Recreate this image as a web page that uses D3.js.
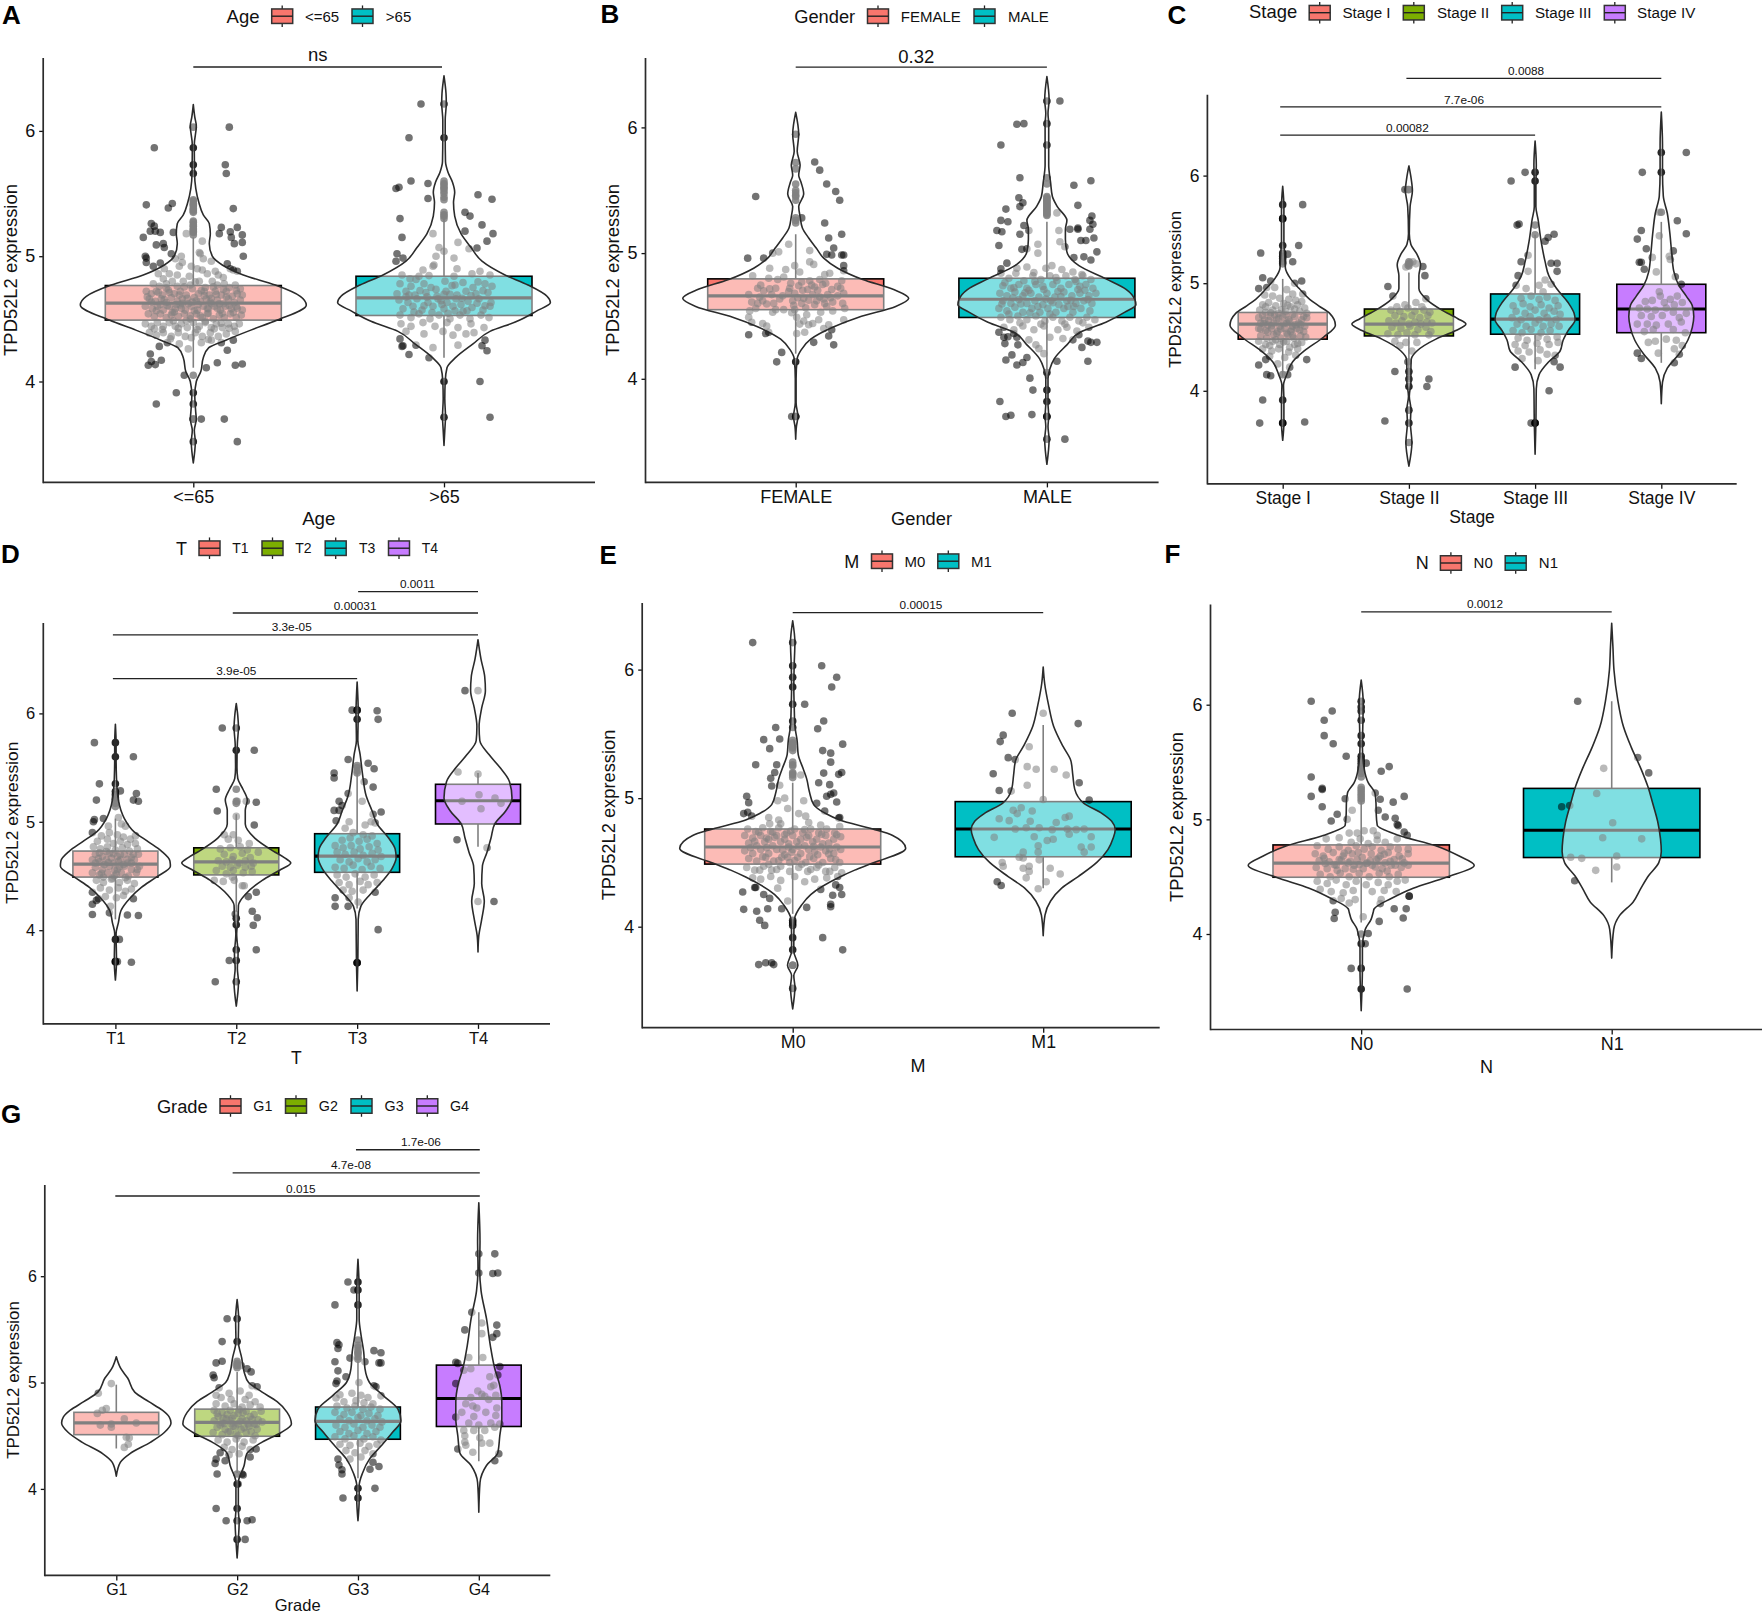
<!DOCTYPE html>
<html><head><meta charset="utf-8">
<script src="https://cdn.jsdelivr.net/npm/d3@7/dist/d3.min.js"></script>
<style>html,body{margin:0;padding:0;background:#fff}svg{display:block}text{font-family:"Liberation Sans",Arial,sans-serif;fill:#111}</style>
</head><body><svg id="c" width="1762" height="1616"></svg>
<script>
// ---------- categories ----------
const catsAge=["<=65",">65"], catsGender=["FEMALE","MALE"], catsStage=["Stage I","Stage II","Stage III","Stage IV"],
      catsT=["T1","T2","T3","T4"], catsM=["M0","M1"], catsN=["N0","N1"], catsGrade=["G1","G2","G3","G4"];
const yTickValues=[4,5,6];
// ---------- box statistics: low whisker, q1, median, q3, high whisker ----------
const boxAge=[[4.11,4.49,4.626,4.766,5.15],[4.19,4.527,4.667,4.84,5.34]];
const boxGender=[[4.2,4.55,4.66,4.795,5.15],[4.0,4.488,4.633,4.8,5.25]];
const boxStage=[[4.13,4.48,4.62,4.728,5.04],[4.1,4.51,4.62,4.76,5.1],[4.2,4.526,4.667,4.9,5.45],[4.26,4.54,4.76,4.99,5.57]];
const boxT=[[4.1,4.49,4.61,4.73,5.03],[4.17,4.51,4.63,4.76,5.07],[4.2,4.534,4.683,4.89,5.5],[4.77,4.98,5.194,5.346,5.45]];
const boxM=[[4.1,4.487,4.62,4.76,5.12],[4.3,4.544,4.76,4.973,5.57]];
const boxN=[[4.1,4.495,4.618,4.777,5.2],[4.45,4.667,4.905,5.27,6.03]];
const boxGrade=[[4.38,4.51,4.62,4.72,4.98],[4.15,4.495,4.625,4.75,5.1],[4.1,4.467,4.634,4.77,5.2],[4.26,4.587,4.85,5.164,5.66]];
// ---------- violin outlines: value, density ----------
const vioAge1=[[3.35,0],[3.52,.02],[3.61,.01],[3.7,.03],[3.75,.025],[3.89,.015],[4,.03],[4.08,.075],[4.19,.1],[4.27,.155],[4.33,.325],[4.41,.575],[4.49,.84],[4.61,1.13],[4.68,1.07],[4.77,.82],[4.85,.5],[4.93,.29],[5,.19],[5.1,.16],[5.18,.17],[5.26,.16],[5.33,.1],[5.43,.055],[5.54,.025],[5.67,.012],[5.89,.01],[6.04,.03],[6.11,.015],[6.21,0]];
const vioAge2=[[3.49,0],[3.61,.008],[3.72,.015],[3.86,.008],[4,.012],[4.11,.03],[4.19,.115],[4.3,.29],[4.4,.46],[4.48,.73],[4.56,.92],[4.63,1.064],[4.68,1.03],[4.77,.84],[4.85,.61],[4.96,.38],[5.07,.27],[5.18,.17],[5.32,.107],[5.43,.095],[5.51,.107],[5.59,.085],[5.67,.04],[5.755,.015],[5.95,.012],[6.085,.012],[6.22,.023],[6.3,.02],[6.44,0]];
const vioGender1=[[3.52,0],[3.62,.007],[3.7,.022],[3.81,.004],[4,.004],[4.16,.015],[4.23,.055],[4.315,.15],[4.41,.37],[4.49,.63],[4.575,1.0],[4.64,1.13],[4.71,.98],[4.79,.67],[4.88,.42],[4.96,.28],[5.04,.205],[5.12,.13],[5.2,.067],[5.29,.044],[5.37,.03],[5.47,.08],[5.56,.055],[5.62,.03],[5.7,.044],[5.81,.015],[5.945,.03],[6.12,0]];
const vioGender2=[[3.32,0],[3.52,.022],[3.62,.011],[3.7,.018],[3.81,.011],[4,.011],[4.08,.03],[4.16,.074],[4.27,.2],[4.37,.33],[4.45,.59],[4.53,.78],[4.59,.89],[4.63,.88],[4.71,.795],[4.795,.59],[4.9,.32],[5.01,.2],[5.11,.185],[5.19,.185],[5.26,.2],[5.37,.104],[5.45,.055],[5.56,.037],[5.7,.018],[5.86,.018],[6.03,.018],[6.11,.011],[6.22,.022],[6.405,0]];
const vioStage1=[[3.54,0],[3.7,.012],[3.92,.012],[4.05,.008],[4.15,.04],[4.27,.1],[4.37,.215],[4.5,.41],[4.61,.527],[4.72,.47],[4.79,.36],[4.85,.27],[4.95,.165],[5.04,.08],[5.14,.027],[5.27,.02],[5.39,.012],[5.59,.012],[5.71,.012],[5.9,0]];
const vioStage2=[[3.3,0],[3.52,.03],[3.7,.015],[3.83,.02],[3.95,.004],[4.08,.02],[4.18,.02],[4.29,.023],[4.37,.08],[4.48,.27],[4.56,.47],[4.62,.57],[4.67,.49],[4.75,.33],[4.85,.175],[4.95,.1],[5.07,.1],[5.17,.117],[5.27,.08],[5.36,.02],[5.46,.004],[5.71,.012],[5.86,.035],[5.97,.023],[6.09,0]];
const vioStage3=[[3.41,0],[3.7,.008],[4.02,.012],[4.15,.04],[4.27,.137],[4.37,.25],[4.47,.28],[4.56,.33],[4.66,.4],[4.72,.39],[4.82,.33],[4.95,.215],[5.07,.137],[5.2,.1],[5.39,.06],[5.59,.03],[5.71,.008],[5.9,.008],[6.1,.012],[6.32,0]];
const vioStage4=[[3.88,0],[4.08,.012],[4.21,.06],[4.34,.175],[4.47,.265],[4.59,.31],[4.69,.325],[4.79,.31],[4.88,.25],[4.98,.175],[5.11,.125],[5.27,.105],[5.46,.086],[5.65,.06],[5.81,.02],[6.03,.012],[6.29,.012],[6.59,0]];
const vioT1=[[3.54,0],[3.71,.011],[3.97,.007],[4.07,.03],[4.18,.055],[4.3,.15],[4.395,.26],[4.49,.41],[4.59,.55],[4.64,.545],[4.73,.46],[4.815,.33],[4.91,.185],[5.03,.09],[5.107,.055],[5.2,.03],[5.4,.011],[5.59,.007],[5.72,.007],[5.9,0]];
const vioT2=[[3.3,0],[3.52,.022],[3.65,.011],[3.78,.018],[3.97,.004],[4.1,.018],[4.23,.022],[4.33,.09],[4.46,.26],[4.56,.445],[4.62,.545],[4.67,.48],[4.73,.37],[4.85,.185],[4.98,.09],[5.107,.09],[5.2,.11],[5.3,.067],[5.4,.015],[5.5,.007],[5.72,.011],[5.87,.022],[5.98,.015],[6.09,0]];
const vioT3=[[3.44,0],[3.71,.007],[4.1,.011],[4.22,.037],[4.33,.13],[4.46,.26],[4.57,.35],[4.67,.39],[4.75,.38],[4.85,.315],[4.98,.2],[5.1,.15],[5.24,.09],[5.43,.055],[5.62,.03],[5.75,.007],[6.01,.011],[6.29,0]];
const vioT4=[[3.8,0],[3.94,.007],[4.1,.037],[4.27,.063],[4.43,.037],[4.59,.044],[4.72,.09],[4.85,.13],[4.98,.167],[5.1,.277],[5.22,.34],[5.37,.315],[5.5,.22],[5.62,.11],[5.75,.018],[5.88,.011],[6.05,.037],[6.21,.074],[6.34,.067],[6.5,.03],[6.68,0]];
const vioM0=[[3.36,0],[3.53,.022],[3.62,.011],[3.7,.052],[3.81,.011],[3.92,.011],[4.06,.018],[4.17,.09],[4.25,.18],[4.386,.47],[4.44,.62],[4.495,.8],[4.61,1.13],[4.71,1.0],[4.76,.8],[4.83,.47],[4.88,.33],[4.95,.21],[5.05,.167],[5.15,.14],[5.23,.104],[5.34,.055],[5.45,.044],[5.56,.022],[5.72,.015],[5.86,.011],[6.04,.015],[6.21,.022],[6.38,0]];
const vioM1=[[3.93,0],[4.09,.018],[4.2,.074],[4.3,.185],[4.39,.35],[4.5,.536],[4.6,.647],[4.69,.7],[4.755,.72],[4.82,.685],[4.88,.59],[4.96,.407],[5.07,.315],[5.18,.296],[5.29,.277],[5.4,.2],[5.56,.104],[5.72,.055],[5.89,.015],[6.02,0]];
const vioN0=[[3.33,0],[3.52,.008],[3.7,.012],[3.88,.012],[4.04,.04],[4.13,.1],[4.19,.12],[4.22,.13],[4.31,.3],[4.4,.52],[4.495,.85],[4.6,1.13],[4.68,.98],[4.77,.745],[4.86,.38],[4.95,.16],[5.05,.15],[5.14,.148],[5.23,.137],[5.32,.07],[5.44,.03],[5.63,.012],[5.81,.016],[6.02,.02],[6.214,0]];
const vioN1=[[3.79,0],[4.04,.02],[4.16,.078],[4.28,.215],[4.4,.293],[4.51,.37],[4.62,.47],[4.72,.496],[4.83,.488],[4.98,.46],[5.14,.41],[5.29,.36],[5.44,.293],[5.63,.195],[5.81,.117],[6.05,.059],[6.3,.023],[6.51,.012],[6.71,0]];
const vioG1=[[4.12,0],[4.25,.04],[4.33,.134],[4.44,.344],[4.53,.48],[4.62,.547],[4.675,.53],[4.74,.46],[4.82,.325],[4.91,.184],[5.04,.115],[5.13,.046],[5.243,0]];
const vioG2=[[3.35,0],[3.52,.012],[3.68,.02],[3.81,.012],[4.06,.012],[4.22,.07],[4.33,.096],[4.44,.25],[4.53,.44],[4.61,.543],[4.72,.5],[4.82,.4],[4.91,.25],[5,.115],[5.1,.07],[5.23,.046],[5.385,.012],[5.6,.015],[5.78,0]];
const vioG3=[[3.7,0],[3.9,.012],[4.03,.012],[4.15,.046],[4.28,.115],[4.41,.237],[4.53,.344],[4.64,.43],[4.75,.4],[4.88,.25],[5,.115],[5.13,.07],[5.29,.057],[5.45,.03],[5.6,.012],[5.86,.012],[6.16,0]];
const vioG4=[[3.78,0],[4.06,.012],[4.22,.077],[4.34,.19],[4.5,.21],[4.66,.23],[4.82,.23],[4.97,.21],[5.13,.16],[5.35,.115],[5.6,.077],[5.86,.023],[6.08,.008],[6.33,.012],[6.69,0]];
// ---------- boxplot outliers on the group centre ----------
const outAge1=[6.03,5.865,5.73,5.66,5.45,5.44,5.42,5.41,5.4,5.38,5.37,5.36,5.35,5.28,5.27,5.25,5.24,5.22,5.21,5.2,5.19,5.17,4.05,3.91,3.82,3.7,3.7,3.52];
const outAge2=[6.215,5.945,5.6,5.58,5.57,5.55,5.54,5.52,5.5,5.47,5.45,5.35,5.33,5.32,5.3,4.0,3.715];
const outGender1=[5.945,5.72,5.67,5.55,5.5,5.48,5.46,5.45,5.42,5.28,5.26,5.24,4.135,3.7,3.7];
const outGender2=[6.21,6.03,5.86,5.6,5.55,5.45,5.44,5.43,5.42,5.41,5.4,5.39,5.38,5.37,5.36,5.35,5.34,5.33,5.32,5.31,5.3,4.05,3.91,3.82,3.7,3.7,3.52];
const outStage1=[5.73,5.6,5.6,5.35,5.28,5.25,5.23,5.2,5.18,4.15,3.915,3.7,3.7];
const outStage2=[5.87,5.2,5.18,5.16,4.18,4.11,4.04,3.82,3.7,3.52];
const outStage3=[6.03,5.95,5.54,5.45,3.7,3.7];
const outStage4=[6.215,6.03,5.66];
const outT1=[5.73,5.6,5.35,5.28,5.25,5.22,5.2,5.17,5.14,3.915,3.71,3.71];
const outT2=[5.865,5.66,5.3,5.19,5.17,4.11,4.05,3.82,3.72,3.525];
const outT3=[6.03,5.945,5.52,5.5,5.47,5.45,3.7,3.7];
const outT4=[];
const outM0=[6.21,6.03,5.94,5.865,5.73,5.6,5.55,5.45,5.43,5.42,5.4,5.39,5.37,5.28,5.26,5.25,5.2,5.19,5.18,5.16,4.05,4.03,4.01,3.915,3.82,3.7,3.7,3.7,3.52];
const outM1=[];
const outN0=[6.03,5.98,5.945,5.865,5.73,5.66,5.55,5.52,5.49,5.46,5.44,5.42,5.4,5.37,5.28,5.26,5.24,5.22,5.2,5.18,5.16,4.0,3.915,3.7,3.52];
const outN1=[];
const outG1=[];
const outG2=[5.6,5.385,5.2,5.18,5.16,5.14,4.14,4.045,3.815,3.7,3.525];
const outG3=[5.945,5.87,5.73,5.4,5.35,5.33,5.3,5.28,5.27,5.24,5.22,4.005,3.915];
const outG4=[];
// ---------- jittered samples: jitter, value ----------
const ptsAge1=[[-39,5.865],[36,6.03],[32,5.73],[33,5.66],[-47,5.41],[-25,5.385],[-21,5.42],[40,5.38],[-42,5.26],[-39,5.24],[-50,5.15],[-43,5.2],[-38,5.2],[-33,5.19],[-20,5.19],[28,5.23],[26,5.18],[37,5.195],[44,5.23],[49,5.17],[38,5.15],[49,5.11],[41,5.1],[-37,5.09],[-30,5.1],[-29,5.07],[-22,5.02],[-48,5],[-47,4.985],[-47,4.95],[-33,4.945],[50,5],[44,4.88],[37,4.9],[40,4.89],[-43,4.22],[-45,4.13],[-42,4.16],[-38,4.135],[-32,4.17],[-34,4.28],[24,4.15],[13,4.11],[42,4.13],[49,4.14],[34,4.25],[40,4.33],[-9,4.05],[-17,3.91],[-37,3.82],[8,3.7],[31,3.7],[44,3.52],
[-7,5.18],[9,5.12],[-12,5],[7,5.02],[10,4.98],[-18,4.98],[18,4.96],[-14,4.92],[4,4.9],[14,4.86],[25,4.85],[30,4.83],[-35,4.86],[-30,4.82],[-24,4.86],[-4,4.84],[-40,4.78],[-34,4.76],[-27,4.78],[-21,4.8],[-16,4.76],[-10,4.8],[-3,4.77],[6,4.8],[12,4.75],[19,4.8],[24,4.77],[31,4.78],[36,4.75],[42,4.77],[-47,4.72],[-42,4.7],[-37,4.72],[-31,4.69],[-25,4.73],[-19,4.7],[-13,4.72],[-7,4.69],[-1,4.74],[5,4.7],[11,4.72],[16,4.69],[22,4.72],[28,4.69],[33,4.72],[39,4.68],[44,4.7],[49,4.69],[-44,4.66],[-38,4.64],[-32,4.66],[-27,4.63],[-22,4.67],[-16,4.64],[-11,4.66],[-5,4.62],[1,4.67],[7,4.64],[13,4.66],[18,4.62],[24,4.65],[30,4.62],[35,4.66],[41,4.63],[47,4.65],[-48,4.6],[-41,4.58],[-36,4.6],[-30,4.57],[-24,4.6],[-18,4.58],[-13,4.61],[-8,4.57],[-2,4.6],[4,4.57],[10,4.6],[15,4.58],[21,4.6],[27,4.57],[32,4.6],[38,4.58],[43,4.6],[49,4.57],[-45,4.54],[-39,4.52],[-33,4.54],[-27,4.51],[-21,4.55],[-15,4.52],[-9,4.54],[-3,4.5],[3,4.54],[9,4.51],[14,4.54],[20,4.5],[26,4.53],[31,4.51],[37,4.54],[43,4.51],[48,4.53],[-48,4.46],[-42,4.44],[-36,4.47],[-30,4.44],[-24,4.47],[-18,4.44],[-12,4.46],[-6,4.43],[0,4.47],[6,4.44],[12,4.47],[18,4.43],[23,4.46],[29,4.43],[35,4.46],[41,4.44],[46,4.46],[-44,4.39],[-37,4.37],[-30,4.39],[-22,4.36],[-15,4.39],[-8,4.36],[2,4.39],[9,4.36],[17,4.39],[25,4.36],[33,4.38],[42,4.4],[-26,4.31],[-14,4.3],[-5,4.26],[8,4.31],[18,4.33],[28,4.31],
[-27,4.745],[-11,4.625],[14,4.585],[3,4.645],[-33,4.615],[23,4.695],[-19,4.555],[8,4.725],[29,4.545],[-6,4.665],[17,4.635],[-24,4.71],[36,4.605],[-14,4.69],[1,4.565],[-29,4.655],[11,4.685],[26,4.62],[-3,4.525],[20,4.755],[-37,4.565],[5,4.615],[33,4.675],[-17,4.615],[-9,4.755],[15,4.545],[40,4.55],[-22,4.53],[-42,4.635],[-1,4.635],[24,4.585],[7,4.525],[-12,4.585],[30,4.735],[-26,4.605],[18,4.665],[-35,4.71],[2,4.795],[43,4.725],[-7,4.485],[-20,4.485],[12,4.48],[28,4.465],[-31,4.415],[36,4.425],[-15,4.425],[4,4.415],[21,4.42],[-39,4.42],[-2,4.35],[15,4.335],[-23,4.34],[44,4.585],[-46,4.675],[47,4.74],[-16,4.85],[9,4.89],[-29,4.9],[22,4.88],[-2,4.92],[34,4.94],[-40,4.92],[-11,4.95],[6,5.03]];
const ptsAge2=[[-23,6.215],[-35,5.945],[-33,5.6],[-48,5.54],[-45,5.55],[-16,5.58],[-16,5.46],[34,5.49],[48,5.455],[-44,5.3],[-42,5.15],[21,5.35],[26,5.32],[38,5.25],[21,5.2],[49,5.18],[43,5.12],[33,5.065],[25,5.06],[-47,5.02],[-48,4.96],[-41,4.985],[-11,5.18],[-5,5.07],[14,5.11],[-10,4.93],[-8,5],[0,5.04],[10,4.985],[13,4.9],[-11,4.92],[-21,4.89],[-44,4.34],[-42,4.28],[-41,4.285],[-35,4.215],[-28,4.29],[-15,4.19],[-11,4.27],[14,4.29],[41,4.33],[38,4.285],[43,4.245],[36,4],[46,3.715],
[-42,4.85],[-34,4.82],[-25,4.84],[10,4.84],[28,4.86],[36,4.88],[46,4.85],[-44,4.78],[-33,4.76],[-20,4.78],[-13,4.75],[1,4.8],[11,4.77],[19,4.79],[29,4.75],[41,4.78],[48,4.76],[-47,4.7],[-38,4.72],[-29,4.69],[-18,4.71],[-7,4.68],[2,4.72],[13,4.69],[22,4.72],[32,4.7],[44,4.71],[-45,4.65],[-36,4.63],[-27,4.66],[-16,4.63],[-6,4.66],[3,4.63],[12,4.66],[24,4.64],[35,4.66],[47,4.63],[-41,4.58],[-31,4.6],[-22,4.57],[-11,4.6],[0,4.58],[9,4.6],[19,4.56],[28,4.59],[39,4.57],[46,4.6],[-44,4.53],[-33,4.51],[-25,4.54],[-14,4.5],[-5,4.53],[6,4.5],[16,4.53],[26,4.5],[37,4.53],[45,4.51],[-43,4.46],[-33,4.44],[-21,4.47],[-9,4.44],[3,4.47],[14,4.43],[27,4.46],[40,4.43],[-38,4.4],[-20,4.38],[-1,4.4],[9,4.37],[22,4.38],[30,4.39],
[-38,4.675],[-20,4.605],[6,4.695],[17,4.615],[-3,4.645],[27,4.685],[-12,4.55],[33,4.625],[-30,4.555],[8,4.765],[-24,4.725],[18,4.665],[39,4.725],[-8,4.735],[0,4.695],[-2,4.615],[23,4.565],[-17,4.675],[11,4.565],[-35,4.69],[34,4.795],[-28,4.815],[-15,4.845],[41,4.605],[4,4.545]];
const ptsGender1=[[-40,5.45],[19,5.725],[24,5.66],[31,5.55],[40,5.49],[44,5.42],[6,5.28],[29,5.24],[33,5.12],[46,5.15],[38,5.04],[31,4.99],[36,4.985],[46,4.985],[48,4.985],[48,4.9],[48,4.86],[-48,4.96],[-32,4.96],[-23,5],[-7,5.07],[-17,5.01],[14,5.02],[-47,4.35],[-14,4.21],[-19,4.135],[18,4.29],[33,4.34],[38,4.27],[-4,3.7],
[-1,4.9],[14,4.93],[-26,4.88],[18,4.91],[-10,4.87],[4,4.85],[29,4.83],[34,4.84],[-43,4.82],[-27,4.8],[-18,4.79],[-12,4.81],[-5,4.76],[6,4.77],[14,4.78],[24,4.79],[30,4.76],[46,4.78],[-38,4.72],[-32,4.7],[-20,4.72],[-6,4.72],[3,4.74],[12,4.71],[19,4.73],[27,4.75],[36,4.71],[45,4.72],[-47,4.67],[-36,4.65],[-24,4.67],[-13,4.66],[-1,4.68],[8,4.64],[17,4.67],[24,4.65],[32,4.67],[42,4.66],[48,4.68],[-44,4.61],[-38,4.6],[-33,4.62],[-22,4.6],[-3,4.62],[6,4.6],[21,4.62],[29,4.6],[37,4.61],[47,4.6],[-46,4.54],[-40,4.56],[-23,4.53],[-12,4.55],[-1,4.55],[11,4.51],[25,4.53],[37,4.54],[49,4.56],[-47,4.49],[-44,4.45],[-33,4.44],[-29,4.42],[1,4.49],[8,4.46],[17,4.44],[23,4.47],[33,4.43],[48,4.47],[-30,4.36],[-27,4.37],[1,4.36],[9,4.37],[28,4.4],[36,4.39],
[-29,4.595],[-16,4.635],[2,4.645],[13,4.625],[-7,4.695],[22,4.705],[35,4.645],[-26,4.715],[7,4.705],[16,4.745],[-2,4.585],[28,4.635],[10,4.565],[-35,4.745],[-4,4.525],[31,4.575],[42,4.735],[19,4.59],[-20,4.55],[4,4.435],[13,4.43]];
const ptsGender2=[[13,6.21],[-30,6.025],[-23,6.03],[-46,5.86],[-27,5.6],[44,5.575],[27,5.54],[-28,5.44],[-24,5.4],[-27,5.37],[-41,5.35],[31,5.38],[45,5.295],[10,5.32],[-46,5.26],[-39,5.25],[43,5.26],[-50,5.18],[-45,5.17],[-23,5.22],[-27,5.15],[23,5.19],[31,5.2],[31,5.19],[43,5.19],[46,5.23],[47,5.12],[34,5.1],[39,5.1],[-48,5.06],[18,5.05],[-25,5.03],[-20,5.035],[50,5.01],[37,4.97],[27,4.965],[44,4.945],[-40,4.92],[-46,4.875],[-48,4.37],[-43,4.33],[-39,4.335],[-42,4.28],[-29,4.27],[35,4.25],[41,4.3],[44,4.29],[50,4.29],[41,4.14],[10,4.14],[-41,4.15],[-35,4.19],[-30,4.11],[-24,4.13],[-20,4.17],[-17,4.005],[-14,3.91],[-47,3.82],[-41,3.7],[-36,3.71],[-15,3.715],[18,3.52],
[-9,5.07],[-9,5.0],[-18,5.18],[12,5.18],[13,5.09],[-30,4.88],[-20,4.89],[-1,4.88],[5,4.9],[15,4.87],[26,4.85],[35,4.83],[-46,4.84],[-38,4.8],[-31,4.84],[-23,4.78],[-14,4.82],[-6,4.79],[3,4.82],[10,4.78],[19,4.82],[28,4.79],[36,4.82],[44,4.79],[-44,4.74],[-36,4.72],[-28,4.75],[-20,4.72],[-11,4.75],[-3,4.71],[6,4.75],[14,4.72],[22,4.75],[31,4.71],[39,4.75],[46,4.72],[-47,4.68],[-40,4.66],[-32,4.69],[-24,4.66],[-16,4.68],[-8,4.65],[0,4.68],[8,4.65],[17,4.69],[25,4.66],[33,4.68],[42,4.66],[49,4.68],[-44,4.62],[-36,4.6],[-28,4.63],[-20,4.6],[-12,4.62],[-4,4.59],[4,4.62],[12,4.59],[20,4.62],[29,4.6],[37,4.62],[45,4.6],[-48,4.56],[-40,4.54],[-32,4.57],[-24,4.53],[-15,4.56],[-7,4.53],[1,4.56],[9,4.53],[17,4.56],[26,4.53],[34,4.56],[43,4.54],[-46,4.49],[-37,4.47],[-29,4.5],[-20,4.47],[-11,4.5],[-2,4.46],[6,4.49],[15,4.46],[23,4.49],[32,4.46],[40,4.49],[48,4.47],[-43,4.41],[-33,4.39],[-24,4.42],[-13,4.39],[-3,4.42],[11,4.39],[20,4.41],[30,4.38],[42,4.41],[-30,4.33],[-18,4.31],[-11,4.27],[-8,4.24],[16,4.32],[26,4.31],[-3,4.2],
[-34,4.645],[-18,4.705],[-4,4.735],[11,4.695],[24,4.625],[38,4.705],[-26,4.595],[-9,4.575],[6,4.605],[21,4.575],[-38,4.515],[-17,4.525],[3,4.515],[27,4.575],[-42,4.765],[-12,4.775],[9,4.805],[33,4.735],[-27,4.445],[-6,4.435],[18,4.435],[36,4.445],[-22,4.685],[14,4.655],[-1,4.635],[41,4.63],[-45,4.595],[29,4.775],[-33,4.725],[-13,4.845],[-33,4.36],[3,4.33],[32,4.35]];
const ptsStage1=[[20,5.73],[-22,5.28],[16,5.35],[5,5.27],[10,5.2],[-20,5.05],[-12,5.02],[-24,4.95],[-16,4.96],[12,5],[19,5.02],[20,4.9],[-18,4.89],[-24,4.24],[-17,4.29],[-16,4.15],[-12,4.14],[5,4.15],[24,4.29],[-20,3.915],[-23,3.7],[22,3.71],
[-8,4.96],[4,4.94],[10,4.9],[-10,4.88],[-3,4.86],[6,4.85],[13,4.84],[19,4.83],[-20,4.8],[-14,4.82],[-7,4.79],[1,4.81],[8,4.78],[15,4.8],[22,4.77],[-23,4.75],[-17,4.73],[-10,4.75],[-4,4.72],[3,4.74],[10,4.71],[17,4.74],[24,4.72],[-24,4.68],[-18,4.66],[-12,4.69],[-6,4.66],[0,4.69],[6,4.66],[12,4.69],[19,4.66],[24,4.68],[-22,4.63],[-15,4.61],[-9,4.63],[-3,4.6],[4,4.63],[10,4.6],[16,4.63],[22,4.6],[-24,4.58],[-17,4.56],[-11,4.58],[-5,4.55],[2,4.58],[8,4.55],[14,4.58],[21,4.55],[-22,4.51],[-16,4.49],[-9,4.52],[-2,4.49],[5,4.52],[11,4.49],[18,4.51],[23,4.5],[-24,4.46],[-17,4.43],[-10,4.46],[-3,4.43],[4,4.46],[12,4.43],[19,4.45],[-20,4.39],[-11,4.37],[-4,4.39],[6,4.36],[15,4.39],[-13,4.32],[2,4.31],[13,4.33],[-5,4.25],[7,4.22],
[-14,4.655],[-8,4.705],[1,4.625],[7,4.645],[-2,4.575],[13,4.615],[-11,4.605],[4,4.535],[-6,4.535],[-15,4.545],[9,4.575],[17,4.565],[-19,4.625],[-4,4.675],[3,4.705],[-12,4.725],[10,4.515],[18,4.615],[-7,4.475],[1,4.455],[-13,4.42],[7,4.405],[15,4.44],[-20,4.7],[-1,4.755],[5,4.795],[12,4.76],[-17,4.78],[-22,4.575],[21,4.69]];
const ptsStage2=[[-4,5.87],[-1,5.87],[1,5.19],[-1,5.17],[7,5.18],[14,5.155],[16,5.07],[-21,4.97],[-16,4.88],[17,4.855],[7,4.82],[-14,4.18],[20,4.11],[18,4.04],[-24,3.72],
[4,5.2],[-3,5.15],[-12,4.78],[-4,4.8],[13,4.78],[-18,4.75],[-9,4.74],[-1,4.77],[6,4.74],[15,4.75],[21,4.73],[-14,4.7],[-5,4.69],[3,4.7],[11,4.68],[19,4.7],[-20,4.65],[-13,4.63],[-7,4.65],[0,4.62],[6,4.64],[12,4.62],[18,4.64],[23,4.63],[-17,4.59],[-8,4.58],[1,4.6],[9,4.57],[17,4.59],[22,4.55],[-21,4.53],[-11,4.52],[-2,4.54],[6,4.52],[20,4.52],[-14,4.46],[-3,4.45],[8,4.45],[-9,4.42],[3,4.37],[-1,4.27]];
const ptsStage3=[[-10,6.03],[-24,5.95],[-18,5.54],[-16,5.55],[19,5.455],[13,5.425],[10,5.39],[-7,5.26],[-14,5.2],[16,5.185],[22,5.185],[22,5.11],[-17,5.07],[-19,4.98],[16,4.99],[-7,5.11],[-20,4.22],[19,4.27],[25,4.22],[14,4],[-4,3.7],
[-9,4.95],[4,4.98],[10,5.03],[8,4.92],[-14,4.86],[-4,4.88],[4,4.85],[12,4.87],[20,4.84],[-22,4.79],[-12,4.81],[-5,4.78],[6,4.8],[14,4.77],[23,4.79],[-19,4.74],[-10,4.72],[0,4.75],[9,4.72],[19,4.74],[25,4.71],[-23,4.68],[-14,4.66],[-5,4.69],[4,4.66],[12,4.68],[21,4.66],[-18,4.62],[-9,4.6],[0,4.63],[8,4.6],[16,4.62],[24,4.6],[-22,4.56],[-13,4.54],[-4,4.57],[6,4.54],[15,4.56],[-17,4.49],[-8,4.47],[3,4.5],[12,4.48],[22,4.5],[-20,4.43],[-10,4.42],[2,4.44],[14,4.43],[23,4.45],[-17,4.37],[-6,4.36],[5,4.38],[12,4.34],[20,4.33],[-13,4.3],[3,4.28]];
const ptsStage4=[[25,6.215],[-19,6.03],[16,5.58],[25,5.46],[-2,5.66],[-20,5.49],[-24,5.41],[-15,5.32],[12,5.3],[-22,5.195],[-20,5.195],[-17,5.13],[-9,5.24],[8,5.25],[-5,5.105],[14,5.06],[20,4.99],[-24,4.35],[-20,4.3],[13,4.26],[18,4.34],[-3,4.35],[-2,5.44],[9,5.22],
[-2,4.92],[-1,4.88],[16,4.88],[9,4.85],[-16,4.83],[-9,4.84],[3,4.82],[13,4.8],[21,4.82],[-22,4.77],[-14,4.76],[-6,4.75],[5,4.77],[12,4.73],[-20,4.7],[-10,4.69],[1,4.7],[18,4.68],[25,4.72],[-24,4.62],[-14,4.62],[-5,4.61],[7,4.62],[20,4.64],[-17,4.55],[-8,4.57],[12,4.57],[24,4.54],[-13,4.45],[-6,4.46],[5,4.48],[15,4.47],[21,4.42],[13,4.39]];
const ptsT1=[[-21,5.73],[18,5.6],[-16,5.35],[5,5.285],[21,5.26],[-19,5.2],[18,5.2],[23,5.19],[-12,5.03],[-22,5],[-21,5.02],[3,5.04],[-23,4.9],[10,4.96],[20,4.87],[-23,4.35],[-19,4.275],[-17,4.29],[-23,4.24],[18,4.29],[-23,4.145],[12,4.14],[23,4.135],[4,3.915],[2,3.71],[16,3.705],
[-7,4.96],[6,4.98],[-6,4.9],[-14,4.87],[2,4.88],[8,4.86],[15,4.84],[-18,4.82],[-8,4.84],[-2,4.8],[5,4.82],[12,4.79],[20,4.8],[-22,4.77],[-15,4.75],[-8,4.77],[0,4.74],[7,4.76],[14,4.73],[22,4.75],[-20,4.7],[-13,4.68],[-6,4.71],[2,4.68],[9,4.7],[16,4.67],[23,4.7],[-23,4.65],[-16,4.63],[-9,4.65],[-2,4.62],[5,4.65],[12,4.62],[19,4.65],[-20,4.58],[-13,4.56],[-6,4.59],[2,4.56],[9,4.59],[16,4.56],[24,4.59],[-23,4.53],[-16,4.51],[-8,4.53],[-1,4.5],[6,4.53],[13,4.5],[21,4.53],[-19,4.46],[-12,4.44],[-4,4.47],[4,4.44],[12,4.46],[19,4.43],[-15,4.39],[-6,4.37],[3,4.39],[10,4.36],[16,4.38],[-10,4.31],[1,4.3],[8,4.32],[-5,4.22],[-6,4.16],
[-11,4.605],[-4,4.665],[3,4.635],[8,4.605],[-17,4.66],[-9,4.725],[5,4.695],[12,4.655],[-1,4.555],[-7,4.625],[16,4.62],[-14,4.525],[4,4.585],[-3,4.48],[10,4.485],[-12,4.49],[-20,4.62],[22,4.56],[-2,4.705],[18,4.7],[1,4.52],[-16,4.715]];
const ptsT2=[[-14,5.865],[18,5.66],[-20,5.3],[20,5.18],[10,5.19],[1,5.19],[-19,5.1],[18,4.97],[-12,4.88],[-3,4.88],[16,4.175],[21,4.115],[17,4.045],[20,3.82],[-7,3.72],[-21,3.525],[20,4.35],[12,4.31],
[0,5.05],[-8,4.84],[2,4.83],[13,4.8],[-16,4.75],[-6,4.76],[4,4.77],[11,4.74],[22,4.72],[-12,4.7],[-3,4.68],[6,4.71],[14,4.67],[-18,4.64],[-10,4.63],[-4,4.65],[3,4.62],[9,4.64],[17,4.62],[-14,4.59],[-6,4.58],[1,4.6],[9,4.58],[15,4.59],[-20,4.55],[-10,4.52],[-3,4.55],[7,4.53],[16,4.54],[-22,4.46],[-13,4.45],[-4,4.49],[-2,4.46],[8,4.41],[6,4.41],[-1,4.15]];
const ptsT3=[[-5,6.03],[0,6.03],[20,6.025],[21,5.945],[-9,5.575],[-23,5.45],[-23,5.405],[11,5.54],[17,5.49],[7,5.37],[16,5.32],[-9,5.26],[-18,5.19],[-15,5.15],[-23,5.105],[-18,5.105],[-21,5.01],[16,5.07],[24,5.09],[5,5.19],[18,4.99],[-22,4.3],[-22,4.22],[-9,4.22],[18,4.35],[21,4.005],
[-8,5.0],[8,4.97],[14,5.0],[-12,4.94],[-4,4.9],[6,4.88],[15,4.87],[-15,4.83],[-7,4.85],[2,4.82],[10,4.84],[20,4.8],[-22,4.78],[-14,4.76],[-6,4.78],[3,4.75],[12,4.77],[21,4.74],[-20,4.72],[-12,4.7],[-3,4.72],[6,4.69],[15,4.71],[24,4.68],[-17,4.65],[-8,4.63],[1,4.66],[10,4.63],[18,4.65],[-22,4.58],[-13,4.57],[-4,4.6],[5,4.56],[14,4.59],[23,4.57],[-20,4.51],[-11,4.49],[-2,4.52],[8,4.49],[17,4.51],[-18,4.44],[-8,4.42],[3,4.45],[11,4.42],[20,4.44],[-14,4.37],[-5,4.36],[6,4.37],[-8,4.3],[1,4.26]];
const ptsT4=[[-13,6.21],[0,6.21],[-20,5.46],[0,5.44],[1,5.25],[17,5.22],[-16,5.19],[23,5.17],[3,5.12],[-21,4.835],[9,4.76],[0,4.265],[16,4.265]];
const ptsM0=[[-40,6.21],[29,6.03],[44,5.94],[39,5.865],[12,5.73],[-17,5.55],[31,5.6],[25,5.54],[-29,5.455],[-13,5.46],[50,5.42],[-23,5.385],[30,5.37],[38,5.35],[38,5.28],[-37,5.26],[-16,5.26],[-18,5.2],[31,5.195],[49,5.2],[46,5.185],[-22,5.155],[26,5.12],[37,5.105],[-21,5.095],[41,5.04],[38,5.03],[34,5.015],[-46,5.015],[-44,4.965],[24,4.96],[44,4.97],[-49,4.88],[-45,4.89],[-41,4.86],[32,4.9],[46,4.845],[47,4.85],[-50,4.27],[-38,4.305],[-37,4.305],[-29,4.25],[-23,4.22],[-49,4.135],[-36,4.12],[-25,4.14],[-33,4.05],[-28,4.01],[28,4.29],[43,4.325],[47,4.305],[40,4.245],[49,4.25],[38,4.175],[38,4.155],[14,4.15],[30,3.915],[50,3.82],[-34,3.705],[-27,3.72],[-21,3.72],[-19,3.705],
[-13,5.1],[-8,5.0],[-15,4.98],[11,4.98],[8,5.18],[-5,4.92],[6,4.88],[13,4.86],[-24,4.85],[-14,4.83],[-23,4.8],[-12,4.8],[16,4.81],[28,4.79],[47,4.78],[-45,4.76],[-37,4.74],[-30,4.77],[-22,4.74],[-14,4.77],[-6,4.73],[2,4.76],[10,4.73],[18,4.76],[26,4.73],[34,4.76],[42,4.73],[-48,4.71],[-40,4.69],[-32,4.71],[-24,4.68],[-16,4.71],[-8,4.68],[0,4.71],[8,4.68],[16,4.71],[24,4.68],[33,4.71],[41,4.68],[48,4.7],[-44,4.65],[-36,4.63],[-28,4.66],[-20,4.63],[-12,4.66],[-4,4.62],[4,4.66],[12,4.63],[20,4.66],[28,4.62],[36,4.65],[44,4.62],[-48,4.59],[-40,4.57],[-32,4.6],[-24,4.57],[-16,4.6],[-8,4.56],[0,4.6],[8,4.57],[16,4.6],[25,4.56],[33,4.59],[41,4.57],[48,4.6],[-44,4.53],[-36,4.51],[-27,4.54],[-19,4.51],[-11,4.54],[-3,4.5],[5,4.54],[13,4.5],[21,4.53],[30,4.5],[38,4.53],[47,4.5],[-46,4.46],[-38,4.44],[-29,4.47],[-21,4.44],[-12,4.47],[-3,4.43],[6,4.46],[15,4.43],[24,4.46],[33,4.43],[42,4.46],[49,4.42],[-40,4.38],[-32,4.37],[-22,4.39],[-12,4.36],[2,4.39],[12,4.35],[22,4.37],[34,4.38],[45,4.39],[-15,4.3],[-5,4.2],[-11,4.14],
[-34,4.735],[-18,4.695],[-4,4.645],[14,4.695],[30,4.645],[44,4.715],[-26,4.615],[-10,4.595],[6,4.625],[22,4.585],[37,4.605],[-42,4.615],[-30,4.545],[-14,4.515],[2,4.515],[17,4.545],[36,4.565],[-20,4.735],[-2,4.745],[12,4.755],[29,4.72],[-38,4.665],[-8,4.715],[21,4.625],[-24,4.485],[9,4.485],[26,4.48],[43,4.52],[-16,4.445],[18,4.445],[-33,4.44],[37,4.43],[-1,4.58],[-26,4.69],[-5,4.54]];
const ptsM1=[[-31,5.66],[0,5.66],[35,5.58],[-40,5.49],[-43,5.44],[-14,5.4],[-35,5.315],[-28,5.3],[-16,5.245],[-7,5.225],[11,5.225],[-50,5.19],[23,5.18],[36,5.12],[-16,5.1],[-44,5.06],[-32,5.055],[46,4.985],[0,4.99],[-30,4.905],[-22,4.925],[-26,4.88],[-11,4.9],[-44,4.84],[-34,4.825],[-13,4.82],[-17,4.77],[-28,4.76],[-4,4.77],[9,4.755],[22,4.85],[26,4.86],[13,4.81],[24,4.76],[33,4.755],[41,4.76],[26,4.72],[48,4.7],[-49,4.695],[-9,4.7],[4,4.67],[10,4.68],[-5,4.63],[38,4.62],[48,4.62],[41,4.58],[-20,4.58],[-24,4.54],[-20,4.535],[-5,4.58],[-4,4.52],[-41,4.5],[-40,4.47],[-20,4.455],[-14,4.47],[-14,4.43],[7,4.455],[17,4.41],[-17,4.38],[-46,4.35],[-42,4.32],[3,4.35],[-5,4.295]];
const ptsN0=[[-50,6.03],[-29,5.945],[-37,5.865],[-37,5.73],[-28,5.66],[-15,5.55],[5,5.49],[28,5.46],[20,5.42],[-50,5.37],[-39,5.27],[-39,5.26],[-50,5.2],[-16,5.18],[14,5.23],[19,5.175],[32,5.15],[43,5.2],[-39,5.11],[-24,5.045],[-30,4.985],[17,5.08],[24,5.02],[34,5.01],[36,4.955],[37,4.945],[-9,5.08],[43,4.89],[46,4.86],[-28,4.29],[-26,4.19],[-27,4.135],[18,4.11],[33,4.22],[45,4.22],[48,4.33],[48,4.33],[42,4.14],[19,4.265],[7,4.005],[4,3.915],[-10,3.7],[46,3.52],
[-14,5.0],[-12,4.88],[-4,4.88],[3,4.9],[12,4.9],[16,4.86],[-35,4.83],[-22,4.84],[-10,4.8],[-1,4.83],[7,4.79],[16,4.82],[24,4.8],[36,4.83],[-44,4.77],[-33,4.74],[-22,4.76],[-13,4.73],[-5,4.77],[3,4.74],[11,4.76],[20,4.73],[29,4.76],[37,4.74],[47,4.74],[-46,4.7],[-38,4.68],[-28,4.71],[-18,4.68],[-9,4.7],[1,4.67],[10,4.7],[19,4.68],[27,4.71],[38,4.68],[47,4.7],[-42,4.64],[-32,4.63],[-22,4.65],[-13,4.62],[-4,4.65],[6,4.62],[15,4.65],[24,4.62],[33,4.65],[43,4.62],[-45,4.58],[-34,4.57],[-25,4.6],[-16,4.57],[-7,4.6],[2,4.57],[11,4.6],[21,4.57],[30,4.6],[40,4.58],[47,4.6],[-41,4.52],[-31,4.5],[-21,4.53],[-12,4.5],[-2,4.53],[8,4.5],[18,4.53],[28,4.5],[37,4.52],[-44,4.46],[-34,4.44],[-25,4.47],[-15,4.43],[-5,4.46],[5,4.43],[17,4.45],[27,4.43],[36,4.46],[44,4.47],[-41,4.39],[-30,4.37],[-18,4.36],[-8,4.38],[11,4.37],[23,4.38],[35,4.37],[-20,4.31],[-12,4.27],[-6,4.3],[20,4.3],[2,4.15],
[-27,4.605],[-11,4.635],[5,4.615],[17,4.66],[29,4.635],[41,4.655],[-37,4.66],[-17,4.705],[-2,4.605],[9,4.64],[23,4.695],[34,4.6],[-24,4.555],[-8,4.565],[14,4.585],[26,4.55],[-36,4.615],[-20,4.645],[-3,4.71]];
const ptsN1=[[-34,6.03],[26,5.54],[-8,5.445],[37,5.405],[-15,5.225],[-50,5.11],[-42,5.12],[1,4.97],[-9,4.84],[30,4.83],[5,4.68],[-41,4.67],[-30,4.66],[5,4.585],[-16,4.555],[-37,4.465]];
const ptsG1=[[-5,4.99],[-18,4.9],[-10,4.755],[-14,4.74],[-19,4.71],[8,4.66],[20,4.62],[-16,4.6],[-5,4.61],[-5,4.58],[10,4.485],[13,4.48],[12,4.42],[8,4.39]];
const ptsG2=[[-10,5.6],[-15,5.385],[-21,5.185],[-15,5.2],[-24,5.07],[-23,5.045],[10,5.13],[14,5.1],[-18,4.95],[-21,4.88],[15,4.97],[20,4.96],[-1,5.16],[4,5.16],[-17,4.34],[-21,4.28],[-22,4.24],[-12,4.265],[13,4.3],[19,4.375],[-20,4.14],[5,4.14],[6,4.13],[1,4.045],[-21,3.815],[-11,3.7],[10,3.7],[15,3.71],[8,3.525],
[-8,4.9],[3,4.92],[12,4.88],[-16,4.86],[-6,4.84],[8,4.84],[18,4.82],[-21,4.8],[-12,4.78],[-3,4.8],[5,4.77],[13,4.79],[23,4.77],[-23,4.74],[-15,4.72],[-7,4.74],[1,4.71],[9,4.73],[17,4.7],[24,4.73],[-19,4.68],[-11,4.66],[-3,4.69],[5,4.66],[13,4.68],[21,4.65],[-23,4.64],[-15,4.62],[-7,4.64],[1,4.61],[9,4.64],[17,4.61],[25,4.63],[-20,4.58],[-12,4.56],[-4,4.59],[4,4.56],[12,4.59],[20,4.56],[-24,4.53],[-15,4.51],[-7,4.54],[1,4.5],[9,4.53],[18,4.5],[-19,4.46],[-10,4.44],[-1,4.47],[7,4.44],[16,4.46],[-13,4.39],[-5,4.37],[5,4.4],[13,4.37],[-8,4.32],[2,4.33],
[-13,4.615],[-5,4.665],[3,4.635],[11,4.61],[-10,4.7],[6,4.715],[15,4.655],[-17,4.6],[-2,4.585],[7,4.575],[-9,4.535],[14,4.54],[-14,4.665],[19,4.605],[-1,4.515],[-6,4.61],[-20,4.71],[2,4.745]];
const ptsG3=[[-10,5.945],[-4,5.87],[-23,5.73],[-21,5.375],[-19,5.355],[-20,5.32],[16,5.3],[23,5.28],[-8,5.23],[-23,5.195],[7,5.195],[21,5.185],[23,5.185],[-20,5.11],[-12,5.055],[-21,5.015],[-22,4.99],[16,4.97],[18,4.96],[-18,4.885],[-22,4.855],[23,4.875],[-20,4.28],[-19,4.225],[-16,4.14],[-16,4.18],[12,4.185],[21,4.21],[15,4.25],[17,4.005],[-15,3.915],
[1,5.0],[-6,4.9],[3,4.88],[10,4.86],[-14,4.82],[-2,4.83],[6,4.81],[15,4.8],[-21,4.78],[-11,4.76],[-3,4.78],[5,4.75],[13,4.77],[22,4.75],[-23,4.72],[-14,4.7],[-6,4.72],[3,4.69],[11,4.71],[20,4.69],[-18,4.66],[-9,4.64],[0,4.67],[9,4.64],[17,4.66],[24,4.63],[-22,4.6],[-13,4.58],[-4,4.61],[5,4.58],[14,4.6],[22,4.58],[-18,4.54],[-9,4.52],[0,4.55],[9,4.52],[18,4.54],[-23,4.49],[-13,4.47],[-4,4.5],[6,4.47],[15,4.49],[23,4.46],[-18,4.42],[-8,4.41],[2,4.43],[11,4.4],[19,4.42],[-12,4.36],[-3,4.34],[7,4.36],[15,4.33],[-8,4.28],[3,4.3]];
const ptsG4=[[16,6.21],[0,6.21],[14,6.025],[19,6.03],[0,6.03],[-7,5.66],[18,5.54],[-14,5.495],[18,5.46],[14,5.425],[3,5.56],[3,5.46],[-23,5.19],[-21,5.18],[-10,5.235],[4,5.235],[21,5.15],[19,5.07],[11,5.055],[-23,4.99],[-15,5.115],[-8,5.13],[15,4.975],[12,4.96],[-23,4.675],[-21,4.375],[20,4.33],[16,4.265],[-14,4.44],[-13,4.41],[-6,4.345],[3,4.43],[11,4.43],
[-1,4.92],[3,4.89],[-8,4.86],[6,4.87],[17,4.88],[-13,4.8],[-6,4.78],[-2,4.76],[10,4.84],[18,4.76],[-17,4.72],[-5,4.68],[7,4.72],[17,4.69],[-10,4.62],[0,4.6],[12,4.62],[21,4.61],[-15,4.55],[-5,4.55],[6,4.55],[16,4.58],[-14,4.5],[1,4.48]];
// ---------- significance brackets: from, to, value, label ----------
const sigAge=[[0,1,6.51,"ns"]], sigGender=[[0,1,6.48,"0.32"]];
const sigStage=[[1,3,6.904,"0.0088"],[0,3,6.638,"7.7e-06"],[0,2,6.376,"0.00082"]];
const sigT=[[2,3,7.123,"0.0011"],[1,3,6.926,"0.00031"],[0,3,6.725,"3.3e-05"],[0,2,6.32,"3.9e-05"]];
const sigM=[[0,1,6.443,"0.00015"]], sigN=[[0,1,6.81,"0.0012"]];
const sigGrade=[[2,3,7.189,"1.7e-06"],[1,3,6.972,"4.7e-08"],[0,3,6.754,"0.015"]];
// ---------- colours ----------
const twoColors=["#F8766D","#00BFC4"], fourColors=["#F8766D","#7CAE00","#00BFC4","#C77CFF"];

// ---------- layout ----------
const panels=[
{tag:"A",tagX:2,tagY:24,name:"Age",cats:catsAge,box:boxAge,vio:[vioAge1,vioAge2],out:[outAge1,outAge2],pts:[ptsAge1,ptsAge2],sig:sigAge,colors:twoColors,
 left:43.2,right:595,top:57.9,bottom:482.4,c0:193.3,c1:444,y4:381.5,y6:130.9,boxHalf:88,tick:18,yT:[10.3,270,18.4],xT:[318.8,525,18.7],sigSize:18.5,sigDx:[-1],sigUp:5.5,sigX:[[0,-2]],
 leg:{tx:226.6,ty:23.4,ts:18.5,cy:16.2,kx:[271.7,352],lx:[305,385.8],ls:15}},
{tag:"B",tagX:600.4,tagY:23.4,name:"Gender",cats:catsGender,box:boxGender,vio:[vioGender1,vioGender2],out:[outGender1,outGender2],pts:[ptsGender1,ptsGender2],sig:sigGender,colors:twoColors,
 left:645.5,right:1158.6,top:57.9,bottom:482.4,c0:795.7,c1:1046.9,y4:378.8,y6:127.4,boxHalf:88,tick:18,yT:[612,270,18.4],xT:[921.5,525,18.3],sigSize:18.5,sigDx:[-5],sigUp:4.5,sigX:[[0,0]],
 leg:{tx:794.2,ty:22.7,ts:18.3,cy:16.2,kx:[867.5,974],lx:[900.8,1008],ls:15}},
{tag:"C",tagX:1167.6,tagY:24,name:"Stage",cats:catsStage,box:boxStage,vio:[vioStage1,vioStage2,vioStage3,vioStage4],out:[outStage1,outStage2,outStage3,outStage4],pts:[ptsStage1,ptsStage2,ptsStage3,ptsStage4],sig:sigStage,colors:fourColors,
 left:1207.4,right:1736.7,top:94.7,bottom:483.8,c0:1282.7,c1:1661.3,y4:390.8,y6:175.6,boxHalf:44.5,tick:17.5,yT:[1174.6,289.3,16.8],xT:[1472,523,17.5],sigSize:11.8,sigDx:[-9,-8,-1.5],sigUp:3.4,sigX:[[-2.5,0],[-2.5,0],[-2.5,0]],
 leg:{tx:1249.1,ty:18.3,ts:18.4,cy:12.7,kx:[1309.2,1403.3,1501.7,1604.3],lx:[1342.4,1436.9,1534.9,1637.1],ls:15.2}},
{tag:"D",tagX:1,tagY:563.3,name:"T",cats:catsT,box:boxT,vio:[vioT1,vioT2,vioT3,vioT4],out:[outT1,outT2,outT3,outT4],pts:[ptsT1,ptsT2,ptsT3,ptsT4],sig:sigT,colors:fourColors,
 left:43.3,right:550,top:623,bottom:1023.9,c0:115.4,c1:478,y4:930.2,y6:713.4,boxHalf:42.5,tick:16.5,yT:[12.2,822.9,17.4],xT:[296.3,1064,17.5],sigSize:11.8,sigDx:[0,-2,-5,0],sigUp:3.4,sigX:[[1,0],[-3.5,0],[-2.5,0],[-2.5,0]],
 leg:{tx:176,ty:554.6,ts:18,cy:548.2,kx:[199,262,325.2,388.5],lx:[232.3,295.2,358.9,421.8],ls:14}},
{tag:"E",tagX:599.6,tagY:564,name:"M",cats:catsM,box:boxM,vio:[vioM0,vioM1],out:[outM0,outM1],pts:[ptsM0,ptsM1],sig:sigM,colors:twoColors,
 left:642.2,right:1159.7,top:603,bottom:1027.7,c0:792.7,c1:1043.2,y4:926.7,y6:669.6,boxHalf:88,tick:17.8,yT:[608.5,815,18.3],xT:[918,1072,18],sigSize:11.8,sigDx:[3],sigUp:3.4,sigX:[[0,0]],
 leg:{tx:844.2,ty:567.9,ts:18,cy:561.2,kx:[871.5,937.8],lx:[904.5,971],ls:15}},
{tag:"F",tagX:1164.4,tagY:563.3,name:"N",cats:catsN,box:boxN,vio:[vioN0,vioN1],out:[outN0,outN1],pts:[ptsN0,ptsN1],sig:sigN,colors:twoColors,
 left:1210.5,right:1762,top:604.4,bottom:1029.5,c0:1361.2,c1:1611.7,y4:934,y6:704.7,boxHalf:88.2,tick:18,yT:[1176.5,817,18.2],xT:[1486.5,1073,18],sigSize:11.8,sigDx:[-1.5],sigUp:3.4,sigX:[[0,0]],
 leg:{tx:1415.8,ty:569.3,ts:18,cy:563,kx:[1440.4,1505.2],lx:[1473.6,1538.8],ls:15}},
{tag:"G",tagX:1,tagY:1122.5,name:"Grade",cats:catsGrade,box:boxGrade,vio:[vioG1,vioG2,vioG3,vioG4],out:[outG1,outG2,outG3,outG4],pts:[ptsG1,ptsG2,ptsG3,ptsG4],sig:sigGrade,colors:fourColors,
 left:44.8,right:550.3,top:1184.9,bottom:1575.4,c0:116.3,c1:478.8,y4:1488.9,y6:1276.2,boxHalf:42.4,tick:16,yT:[13.4,1380,16.9],xT:[297.7,1611,16.5],sigSize:11.8,sigDx:[2.5,-7,3.3],sigUp:3.4,sigX:[[-2,1],[-4.5,1],[-1,1]],
 leg:{tx:156.9,ty:1112.8,ts:18.3,cy:1106,kx:[220,285.5,351,416.8],lx:[253.3,318.8,384.6,450],ls:14.3}}
];
const svg=d3.select("#c");
const densityScale=d3.scaleLinear().domain([0,1]).range([0,100]);
const jitterScale=d3.scaleLinear().domain([0,1]).range([0,1]);
const R=3.8, LINE="#2b2b2b";

panels.forEach(p=>{
  const g=svg.append("g");
  const x=d3.scalePoint().domain(p.cats).range([p.c0,p.c1]);
  const y=d3.scaleLinear().domain([4,6]).range([p.y4,p.y6]);
  g.append("text").attr("x",p.tagX).attr("y",p.tagY).attr("font-size",26).attr("font-weight","bold").style("fill","#000").text(p.tag);
  // groups
  p.cats.forEach((c,i)=>{
    const cx=x(c), b=p.box[i], col=p.colors[i], gg=g.append("g");
    gg.append("line").attr("x1",cx).attr("x2",cx).attr("y1",y(b[0])).attr("y2",y(b[4])).attr("stroke","#000").attr("stroke-width",1.6);
    gg.append("rect").attr("x",cx-p.boxHalf).attr("width",2*p.boxHalf).attr("y",y(b[3])).attr("height",y(b[1])-y(b[3])).attr("fill",col).attr("stroke","#000").attr("stroke-width",1.6);
    gg.append("line").attr("x1",cx-p.boxHalf).attr("x2",cx+p.boxHalf).attr("y1",y(b[2])).attr("y2",y(b[2])).attr("stroke","#000").attr("stroke-width",3.2);
    gg.selectAll("circle.o").data(p.out[i]).join("circle").attr("class","o").attr("cx",cx).attr("cy",d=>y(d)).attr("r",R).attr("fill","#000").attr("fill-opacity",.85);
    gg.selectAll("circle.p").data(p.pts[i]).join("circle").attr("class","p").attr("cx",d=>cx+jitterScale(d[0])).attr("cy",d=>y(d[1])).attr("r",R).attr("fill","#000").attr("fill-opacity",.55);
    const area=d3.area().curve(d3.curveMonotoneY).y(d=>y(d[0])).x0(d=>cx-densityScale(d[1])).x1(d=>cx+densityScale(d[1]));
    gg.append("path").attr("d",area(p.vio[i])).attr("fill","#fff").attr("fill-opacity",.5).attr("stroke",LINE).attr("stroke-width",1.6).attr("stroke-linejoin","round");
  });
  // axes
  const ax=g.append("g").attr("transform",`translate(${p.left},0)`).call(d3.axisLeft(y).tickValues(yTickValues).tickFormat(d3.format("d")).tickSize(4).tickPadding(4));
  const bx=g.append("g").attr("transform",`translate(0,${p.bottom})`).call(d3.axisBottom(x).tickSize(5).tickPadding(3));
  [ax,bx].forEach(a=>{a.select(".domain").remove();a.selectAll("line").attr("stroke","#111").attr("stroke-width",1.3);a.selectAll("text").attr("font-size",p.tick).attr("font-family","Liberation Sans").style("fill","#111");});
  g.append("line").attr("x1",p.left).attr("x2",p.left).attr("y1",p.top).attr("y2",p.bottom+.8).attr("stroke",LINE).attr("stroke-width",1.7);
  g.append("line").attr("x1",p.left).attr("x2",p.right).attr("y1",p.bottom).attr("y2",p.bottom).attr("stroke",LINE).attr("stroke-width",1.7);
  // axis titles
  g.append("text").attr("transform",`translate(${p.yT[0]+p.yT[2]*.36},${p.yT[1]}) rotate(-90)`).attr("text-anchor","middle").attr("font-size",p.yT[2]).text("TPD52L2 expression");
  g.append("text").attr("x",p.xT[0]).attr("y",p.xT[1]).attr("text-anchor","middle").attr("font-size",p.xT[2]).text(p.name);
  // brackets
  p.sig.forEach((s,i)=>{
    const xa=x(p.cats[s[0]]),xb=x(p.cats[s[1]]),yy=y(s[2]);
    g.append("line").attr("x1",xa+p.sigX[i][0]).attr("x2",xb+p.sigX[i][1]).attr("y1",yy).attr("y2",yy).attr("stroke","#222").attr("stroke-width",1.3);
    g.append("text").attr("x",(xa+xb)/2+p.sigDx[i]).attr("y",yy-p.sigUp).attr("text-anchor","middle").attr("font-size",p.sigSize).text(s[3]);
  });
  // legend
  const L=p.leg;
  g.append("text").attr("x",L.tx).attr("y",L.ty).attr("font-size",L.ts).text(p.name);
  p.cats.forEach((c,i)=>{
    const kx=L.kx[i],kw=21,kh=14.5;
    g.append("line").attr("x1",kx+kw/2).attr("x2",kx+kw/2).attr("y1",L.cy-kh/2-3.5).attr("y2",L.cy+kh/2+3.5).attr("stroke","#222").attr("stroke-width",1.3);
    g.append("rect").attr("x",kx).attr("y",L.cy-kh/2).attr("width",kw).attr("height",kh).attr("fill",p.colors[i]).attr("stroke","#333").attr("stroke-width",1.5);
    g.append("line").attr("x1",kx).attr("x2",kx+kw).attr("y1",L.cy).attr("y2",L.cy).attr("stroke","#222").attr("stroke-width",1.4);
    g.append("text").attr("x",L.lx[i]).attr("y",L.cy+L.ls*.36).attr("font-size",L.ls).text(c);
  });
});
</script></body></html>
